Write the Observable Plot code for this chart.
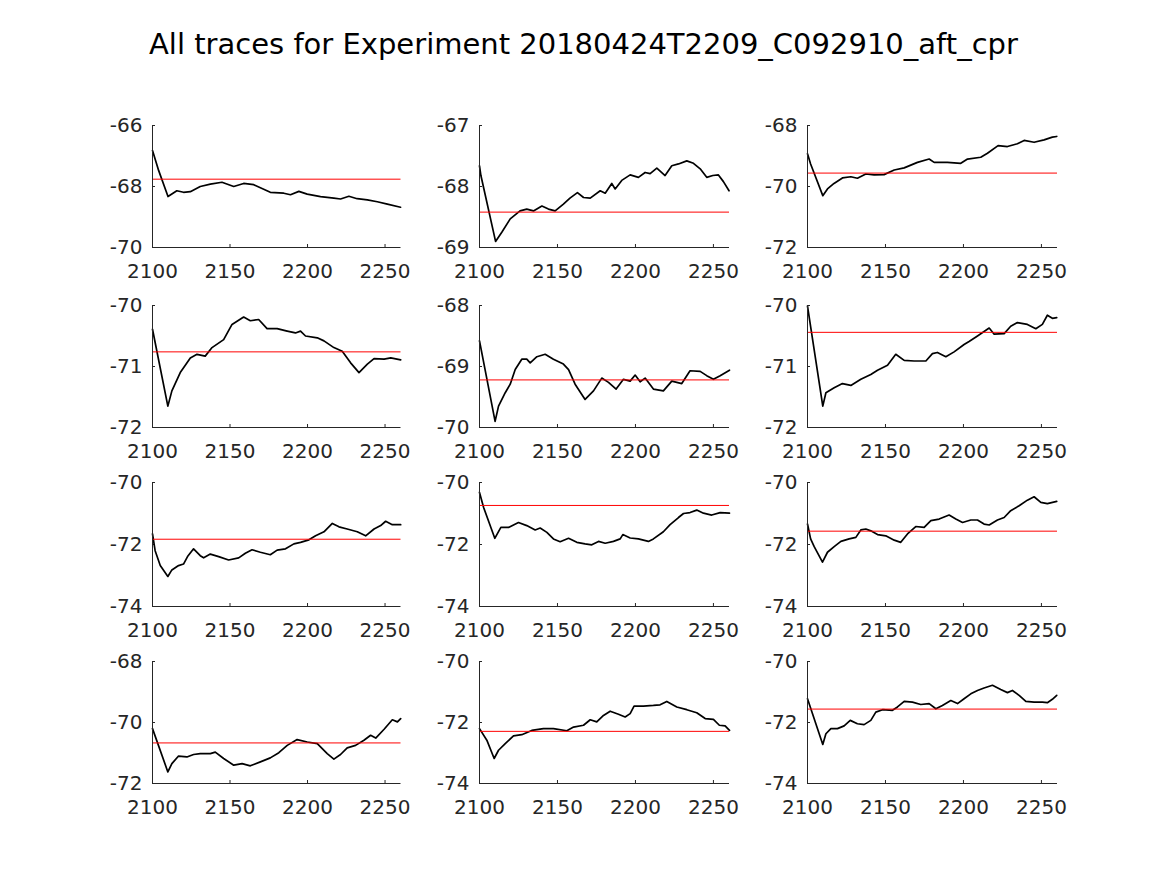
<!DOCTYPE html>
<html><head><meta charset="utf-8">
<script src="https://cdn.jsdelivr.net/npm/d3@7"></script>
<script src="https://cdn.jsdelivr.net/npm/@observablehq/plot@0.6"></script>
<style>
html,body{margin:0;padding:0;background:#fff;}
#fig{position:relative;width:1167px;height:875px;background:#fff;font-family:"DejaVu Sans",sans-serif;overflow:hidden;}
#title{position:absolute;left:0;width:1167px;top:30px;text-align:center;font-size:29px;line-height:29px;color:#000;white-space:nowrap;}
.panel{position:absolute;}
</style></head><body>
<div id="fig"><div id="title">All traces for Experiment 20180424T2209_C092910_aft_cpr</div></div>
<script>
const titleText = "All traces for Experiment 20180424T2209_C092910_aft_cpr";
const xDomain = [2100, 2260.3];
const xTicks = [2100, 2150, 2200, 2250];

const yDomains = [
  [-70, -66], [-69, -67], [-72, -68],
  [-72, -70], [-70, -68], [-72, -70],
  [-74, -70], [-74, -70], [-74, -70],
  [-72, -68], [-74, -70], [-74, -70]
];
const yTicks = [
  [-70, -68, -66], [-69, -68, -67], [-72, -70, -68],
  [-72, -71, -70], [-70, -69, -68], [-72, -71, -70],
  [-74, -72, -70], [-74, -72, -70], [-74, -72, -70],
  [-72, -70, -68], [-74, -72, -70], [-74, -72, -70]
];
const means = [
  -67.76, -68.42, -69.56,
  -70.76, -69.22, -70.44,
  -71.83, -70.74, -71.57,
  -70.67, -72.29, -71.56
];

const trace1 = [[2100,-66.82],[2104,-67.48],[2110,-68.33],[2115.7,-68.14],[2120,-68.19],[2124.4,-68.17],[2130.8,-68.0],[2137.3,-67.92],[2144.8,-67.86],[2152.4,-68.0],[2158.8,-67.9],[2165.3,-67.94],[2176,-68.19],[2184.7,-68.22],[2189,-68.27],[2194.4,-68.16],[2199.8,-68.25],[2208.4,-68.33],[2217,-68.38],[2221.3,-68.41],[2226.7,-68.32],[2232,-68.4],[2238.6,-68.44],[2245,-68.5],[2251.5,-68.58],[2260,-68.68]];
const trace2 = [[2100,-67.66],[2100.9,-67.82],[2110.3,-68.9],[2114.3,-68.75],[2119.7,-68.53],[2126,-68.4],[2130.3,-68.37],[2134.6,-68.4],[2140,-68.32],[2144.2,-68.37],[2148.5,-68.4],[2153.8,-68.29],[2158,-68.19],[2162.8,-68.1],[2166.7,-68.18],[2171,-68.19],[2177.4,-68.07],[2180.6,-68.11],[2184.8,-67.95],[2187,-68.04],[2191.2,-67.9],[2196.6,-67.81],[2201.9,-67.85],[2206.2,-67.77],[2209.4,-67.79],[2213.7,-67.7],[2219,-67.82],[2223.3,-67.66],[2227.6,-67.63],[2232.9,-67.58],[2237.2,-67.62],[2241.5,-67.71],[2245.7,-67.85],[2249.6,-67.82],[2253.2,-67.81],[2256.4,-67.92],[2260,-68.07]];
const trace3 = [[2100,-68.93],[2102,-69.26],[2109.8,-70.3],[2112.8,-70.08],[2117,-69.9],[2122.4,-69.72],[2127.8,-69.68],[2132,-69.73],[2137.4,-69.59],[2142.7,-69.62],[2149.1,-69.61],[2155.6,-69.46],[2162,-69.39],[2170.5,-69.21],[2178,-69.1],[2181.2,-69.21],[2189.7,-69.21],[2198.3,-69.24],[2202.6,-69.1],[2211.1,-69.04],[2215.4,-68.91],[2222.2,-68.66],[2228.2,-68.69],[2234.6,-68.6],[2238.9,-68.49],[2245.3,-68.55],[2251.7,-68.47],[2257,-68.38],[2259.8,-68.36]];
const trace4 = [[2100,-70.39],[2109.9,-71.65],[2112.5,-71.4],[2117.9,-71.1],[2124.4,-70.86],[2128.7,-70.8],[2134,-70.83],[2138.4,-70.69],[2145.9,-70.56],[2151.3,-70.31],[2158.8,-70.19],[2163.1,-70.25],[2168.5,-70.23],[2173.9,-70.38],[2180.4,-70.38],[2186.9,-70.42],[2192.2,-70.45],[2195.5,-70.42],[2198.7,-70.5],[2206.3,-70.53],[2210.6,-70.58],[2217,-70.69],[2222.4,-70.75],[2227.8,-70.94],[2233.2,-71.1],[2238.6,-70.96],[2242.9,-70.87],[2249.4,-70.88],[2253.7,-70.86],[2260.1,-70.89]];
const trace5 = [[2100,-68.58],[2110,-69.9],[2112.2,-69.65],[2116.5,-69.43],[2119.7,-69.29],[2122.9,-69.05],[2127.1,-68.88],[2130.3,-68.88],[2132.5,-68.94],[2136.8,-68.84],[2142.1,-68.8],[2147.4,-68.88],[2153.8,-68.96],[2157.1,-69.05],[2161.3,-69.29],[2167.7,-69.54],[2173.1,-69.4],[2178.4,-69.19],[2182.7,-69.26],[2187.6,-69.37],[2192.3,-69.21],[2196.6,-69.24],[2199.8,-69.14],[2203,-69.25],[2206.2,-69.19],[2211.5,-69.37],[2217.9,-69.4],[2223.3,-69.24],[2229.7,-69.28],[2235,-69.07],[2241.5,-69.08],[2245.7,-69.15],[2250,-69.21],[2254.3,-69.15],[2260.3,-69.06]];
const trace6 = [[2100,-70.01],[2109.8,-71.65],[2111.8,-71.43],[2117.1,-71.35],[2122.4,-71.28],[2127.8,-71.31],[2134.2,-71.21],[2140.6,-71.13],[2144.9,-71.06],[2151.3,-70.98],[2156.6,-70.8],[2162,-70.9],[2168.4,-70.91],[2175.9,-70.91],[2180.1,-70.79],[2183.3,-70.77],[2188.7,-70.84],[2194,-70.76],[2200.4,-70.64],[2203.6,-70.59],[2209,-70.5],[2216.5,-70.37],[2219.7,-70.47],[2226.1,-70.46],[2230.3,-70.34],[2234.6,-70.28],[2241,-70.31],[2246.4,-70.38],[2250.6,-70.31],[2253.8,-70.16],[2257,-70.21],[2259.8,-70.2]];
const trace7 = [[2100,-71.66],[2101.7,-72.2],[2105,-72.68],[2109.9,-73.03],[2112.5,-72.82],[2116.8,-72.68],[2120,-72.63],[2122.6,-72.39],[2126.5,-72.14],[2130.8,-72.36],[2133,-72.43],[2137.3,-72.31],[2142.7,-72.39],[2149.1,-72.5],[2155.6,-72.43],[2159.9,-72.28],[2164.2,-72.17],[2169.6,-72.25],[2176,-72.33],[2180.4,-72.18],[2185.8,-72.14],[2191.2,-71.98],[2195.5,-71.93],[2200.9,-71.85],[2205.2,-71.72],[2210.6,-71.59],[2216,-71.32],[2220.3,-71.43],[2225.6,-71.5],[2232.1,-71.59],[2237.5,-71.72],[2242.9,-71.5],[2247.2,-71.39],[2250.4,-71.25],[2254.7,-71.36],[2260.1,-71.36]];
const trace8 = [[2100,-70.32],[2102.6,-70.8],[2109.8,-71.8],[2113.7,-71.45],[2118.6,-71.45],[2125,-71.29],[2130.3,-71.39],[2135.7,-71.53],[2138.9,-71.47],[2143.2,-71.61],[2147.4,-71.82],[2151.7,-71.91],[2157.1,-71.8],[2162.4,-71.93],[2167.7,-71.98],[2172,-72.01],[2176.3,-71.9],[2180.6,-71.96],[2185.9,-71.9],[2190.2,-71.82],[2191.9,-71.68],[2196.6,-71.79],[2201.9,-71.82],[2208.3,-71.9],[2211.5,-71.82],[2217.9,-71.59],[2222.2,-71.36],[2227.6,-71.13],[2230.8,-71.0],[2235,-70.97],[2239.3,-70.89],[2243.6,-70.99],[2248.9,-71.05],[2254.3,-70.97],[2260.3,-70.99]];
const trace9 = [[2100,-71.34],[2102,-71.82],[2104.3,-72.07],[2109.6,-72.57],[2112.8,-72.25],[2117.1,-72.07],[2121.4,-71.9],[2126.7,-71.82],[2131,-71.77],[2134.2,-71.53],[2137.4,-71.5],[2140.6,-71.56],[2144.9,-71.68],[2150.2,-71.72],[2155.6,-71.86],[2159.8,-71.93],[2164.1,-71.66],[2169.4,-71.42],[2174.8,-71.45],[2179.1,-71.23],[2184.4,-71.18],[2190.8,-71.05],[2195.1,-71.18],[2199.4,-71.29],[2204.7,-71.21],[2209,-71.21],[2213.2,-71.34],[2216.5,-71.37],[2221.8,-71.21],[2226.1,-71.13],[2230.3,-70.91],[2235.7,-70.75],[2241,-70.57],[2245.3,-70.46],[2249.6,-70.64],[2253.8,-70.68],[2259.8,-70.61]];
const trace10 = [[2100,-70.2],[2109.9,-71.62],[2112.5,-71.35],[2116.8,-71.1],[2122.2,-71.13],[2126.5,-71.05],[2130.8,-71.02],[2137.3,-71.02],[2140.5,-70.97],[2145.9,-71.18],[2152.4,-71.4],[2157.8,-71.35],[2163.1,-71.42],[2169.6,-71.29],[2176,-71.16],[2181.5,-70.99],[2186.9,-70.75],[2193.3,-70.56],[2199.8,-70.64],[2206.3,-70.69],[2212.7,-71.02],[2217,-71.2],[2221.3,-71.05],[2225.6,-70.83],[2231,-70.75],[2236.4,-70.58],[2240.7,-70.42],[2244,-70.51],[2249.4,-70.22],[2254.7,-69.91],[2258,-69.98],[2260.1,-69.87]];
const trace11 = [[2100,-72.2],[2104.7,-72.58],[2109.4,-73.18],[2112.2,-72.91],[2116.5,-72.69],[2121.8,-72.44],[2127.1,-72.4],[2133.5,-72.26],[2141,-72.2],[2147.4,-72.2],[2156,-72.27],[2160.3,-72.15],[2166.7,-72.09],[2171,-71.91],[2175.2,-71.98],[2179.5,-71.77],[2183.8,-71.63],[2189.1,-71.73],[2193.4,-71.82],[2196.6,-71.71],[2199.1,-71.46],[2205.1,-71.46],[2211.5,-71.44],[2215.8,-71.42],[2220.1,-71.31],[2226.5,-71.49],[2232.9,-71.58],[2239.3,-71.68],[2244.7,-71.87],[2250,-71.9],[2253.8,-72.09],[2257.5,-72.11],[2260.3,-72.26]];
const trace12 = [[2100,-71.22],[2109.8,-72.72],[2111.8,-72.37],[2115,-72.2],[2119.2,-72.2],[2123.5,-72.11],[2127.4,-71.93],[2132,-72.04],[2136.3,-72.07],[2140.6,-71.93],[2143.8,-71.66],[2148.1,-71.58],[2154.5,-71.6],[2157.7,-71.49],[2162,-71.31],[2167.3,-71.33],[2172.6,-71.41],[2178,-71.38],[2182.3,-71.55],[2186.5,-71.44],[2191.9,-71.28],[2196.2,-71.38],[2200.4,-71.22],[2204.7,-71.06],[2209,-70.95],[2213.2,-70.87],[2218.6,-70.78],[2223.9,-70.92],[2228.2,-71.02],[2231.4,-70.95],[2235.7,-71.11],[2240,-71.31],[2245.3,-71.33],[2250.6,-71.33],[2253.8,-71.35],[2257,-71.24],[2259.8,-71.11]];

const traces = [trace1, trace2, trace3, trace4, trace5, trace6, trace7, trace8, trace9, trace10, trace11, trace12];

// layout (frame positions in page pixels)
const colLefts = [152.3, 479.3, 806.7];
const colWidths = [248.5, 250, 250];
const rowTops = [125, 304.5, 482, 661];
const rowHeights = [122, 122, 124, 122];
const ML = 70, MR = 20, MT = 20, MB = 45;

const fig = document.getElementById("fig");
traces.forEach((trace, i) => {
  const r = Math.floor(i / 3), c = i % 3;
  const yDomain = yDomains[i];
  const chart = Plot.plot({
    width: ML + colWidths[c] + MR,
    height: MT + rowHeights[r] + MB,
    marginLeft: ML, marginRight: MR, marginTop: MT, marginBottom: MB,
    style: {fontFamily: "DejaVu Sans, sans-serif", fontSize: "20px", color: "#262626", background: "transparent", overflow: "visible"},
    x: {domain: xDomain, ticks: xTicks, tickFormat: d => String(d), tickSize: -3, tickPadding: 19, label: null},
    y: {domain: yDomain, ticks: yTicks[i], tickFormat: d => String(d), tickSize: -3, tickPadding: 13, label: null},
    marks: [
      Plot.line(trace, {x: d => d[0], y: d => d[1], stroke: "black", strokeWidth: 1.7, strokeLinejoin: "round"}),
      Plot.ruleY([means[i]], {stroke: "#ff0000", strokeWidth: 1}),
      Plot.ruleX([xDomain[0]], {stroke: "#262626", strokeWidth: 1}),
      Plot.ruleY([yDomain[0]], {stroke: "#262626", strokeWidth: 1})
    ]
  });
  chart.classList.add("panel");
  chart.style.left = (colLefts[c] - ML) + "px";
  chart.style.top = (rowTops[r] - MT) + "px";
  fig.appendChild(chart);
});
</script>
</body></html>
